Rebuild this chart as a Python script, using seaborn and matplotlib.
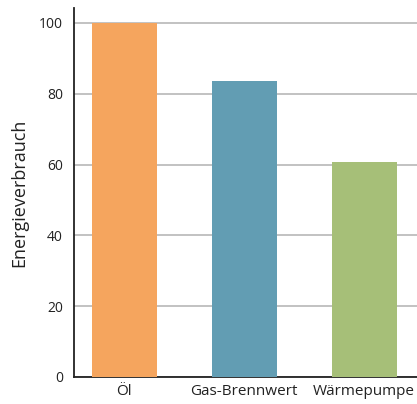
import matplotlib
matplotlib.use("Agg")
import matplotlib.pyplot as plt
import seaborn as sns
import pandas as pd

# data
categories = ["Öl", "Gas-Brennwert", "Wärmepumpe"]
values = [100, 83.5, 60.7]
colors = ["#F5A55E", "#629DB3", "#A6BF78"]

df = pd.DataFrame({"Heizung": categories, "Energieverbrauch": values})

sns.set_style("white")
plt.rcParams["font.family"] = ["Open Sans", "DejaVu Sans"]

fig = plt.figure(figsize=(4.17, 4.04), dpi=100)
ax = fig.add_axes([74 / 417, 27 / 404, 1 - 74 / 417, 369 / 404])

sns.barplot(data=df, x="Heizung", y="Energieverbrauch", hue="Heizung",
            palette=colors, width=0.545, saturation=1, legend=False, ax=ax,
            linewidth=0, edgecolor="none", zorder=3)

ax.set_xlim(-0.42, 2.44)
ax.set_ylim(0, 104.2)
ax.set_yticks([0, 20, 40, 60, 80, 100])
ax.yaxis.grid(True, color="#bdbdbd", linewidth=1.3, zorder=0)
ax.set_axisbelow(True)

for s in ["top", "right"]:
    ax.spines[s].set_visible(False)
for s in ["left", "bottom"]:
    ax.spines[s].set_color("#222222")
    ax.spines[s].set_linewidth(1.3)

ax.tick_params(axis="y", length=0, labelsize=10, colors="#222222", pad=8)
ax.tick_params(axis="x", length=0, labelsize=11, colors="#222222", pad=5)
ax.set_xlabel("")
ax.set_ylabel("Energieverbrauch", fontsize=13, color="#222222", labelpad=8)

fig.savefig("out.png", dpi=100)
